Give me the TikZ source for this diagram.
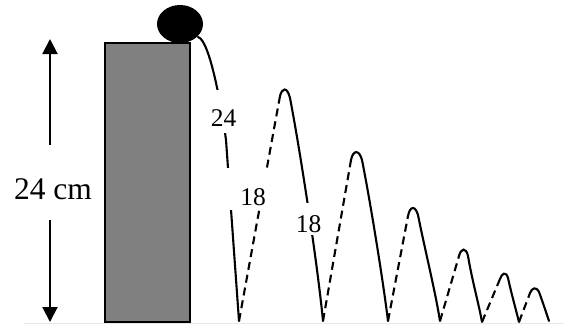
\documentclass[tikz,border=0pt]{standalone}
\usepackage{fontspec}
\setmainfont{Liberation Serif}
\usetikzlibrary{arrows.meta,shapes.geometric}
\begin{document}
\begin{tikzpicture}[x=1pt,y=-1pt,
  solidpath/.style={line width=2.1pt, line cap=round},
  dashpath/.style={line width=2.1pt, dash pattern=on 8pt off 5pt},
  lbl/.style={fill=white, inner sep=0pt, minimum width=56pt, font=\fontsize{25.5}{30}\selectfont, anchor=base},
  dimarrow/.style={line width=2pt, -{Triangle[width=15pt,length=15pt]}}]
\useasboundingbox (0,0) rectangle (564,325);
% ground
\draw[line width=1.5pt, color=black!9] (24,323.5) -- (564,323.5);
% tower
\draw[line width=1.5pt, fill=black!50] (105,43) rectangle (190,322);
% height dimension
\coordinate (atop) at (50,39);
\coordinate (abot) at (50,322);
\node[anchor=base, inner sep=0pt, text height=54pt, text depth=21pt, font=\fontsize{31.5}{36}\selectfont] (dim) at (53,199) {24 cm};
\draw[dimarrow] (dim.north -| atop) -- (atop);
\draw[dimarrow] (dim.south -| abot) -- (abot);
% first fall
\coordinate (s0) at (198,37);
\coordinate (b1) at (239,321);
\draw[solidpath] (s0) .. controls (210,40) and (222,110) .. (226,140) -- (b1);
% bounce 1
\coordinate (d1) at (280,96);
\coordinate (e1) at (290,98);
\coordinate (b2) at (323,321);
\draw[dashpath] (b1) -- (d1);
\draw[solidpath] (d1) .. controls (282,88) and (287,86) .. (e1) .. controls (300,150) and (317,260) .. (b2);
% bounce 2
\coordinate (d2) at (351,160);
\coordinate (e2) at (362,160);
\coordinate (b3) at (388,321);
\draw[dashpath] (b2) -- (d2);
\draw[solidpath] (d2) .. controls (353,150) and (359,149) .. (e2) .. controls (370,200) and (383,280) .. (b3);
% bounce 3
\coordinate (d3) at (408,216);
\coordinate (e3) at (418,215);
\coordinate (b4) at (440,321);
\draw[dashpath] (b3) -- (d3);
\draw[solidpath] (d3) .. controls (410,206) and (415,205) .. (e3) .. controls (425,250) and (435,290) .. (b4);
% bounce 4
\coordinate (d4) at (459,256);
\coordinate (e4) at (468,256);
\coordinate (b5) at (482,322);
\draw[dashpath] (b4) -- (d4);
\draw[solidpath] (d4) .. controls (461,248) and (466,247) .. (e4) .. controls (472,280) and (479,305) .. (b5);
% bounce 5
\coordinate (d5) at (500,279);
\coordinate (e5) at (508,278);
\coordinate (b6) at (519,322);
\draw[dashpath] (b5) -- (d5);
\draw[solidpath] (d5) .. controls (502,273) and (506,271) .. (e5) .. controls (511,292) and (516,310) .. (b6);
% bounce 6
\coordinate (d6) at (530,293);
\coordinate (e6) at (539,292);
\coordinate (b7) at (549,321);
\draw[dashpath] (b6) -- (d6);
\draw[solidpath] (d6) .. controls (532,288) and (536,286) .. (e6) .. controls (542,300) and (546,312) .. (b7);
% ball
\node[ellipse, fill=black, inner sep=0pt, minimum width=46pt, minimum height=38pt] (ball) at (180,24) {};
% labels
\node[lbl, text height=36pt, text depth=7pt] (l24) at (223.5,126) {24};
\node[lbl, text height=37pt, text depth=5pt] (l18a) at (253,205) {18};
\node[lbl, text height=29pt, text depth=3pt] (l18b) at (308.5,232) {18};
\end{tikzpicture}
\end{document}
